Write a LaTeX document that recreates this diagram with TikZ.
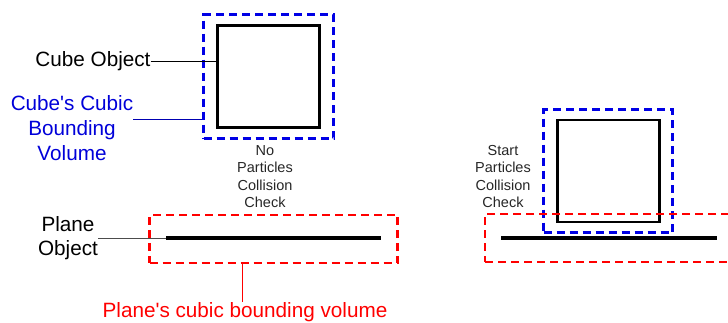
\documentclass[tikz,border=0pt]{standalone}
\usepackage{fontspec}
\setmainfont{Liberation Sans}
\usetikzlibrary{positioning}
\begin{document}
\begin{tikzpicture}[x=1pt, y=-1pt,
		bigtxt/.style={font=\fontsize{20.7}{25}\selectfont, align=center, inner sep=0pt},
		smalltxt/.style={font=\fontsize{14.5}{17.5}\selectfont, align=center, inner sep=0pt, text=black!85},
		cube/.style={draw, line width=2.5pt, minimum width=102pt, minimum height=102pt, inner sep=0pt},
		bvol/.style={draw=blue!90!black, line width=3pt, dash pattern=on 8pt off 5pt, inner sep=0pt},
		pvol/.style={draw=red, line width=2.5pt, dash pattern=on 8pt off 5pt, inner sep=0pt},
		plane/.style={line width=3.5pt},
		conn/.style={line width=1pt}]
		\useasboundingbox (0,0) rectangle (728,322);
		% before: no contact
		\node[cube] (cubeL) at (268.5,76.5) {};
		\node[bvol, minimum width=130pt, minimum height=124pt] (bvL) at (268.5,76.5) {};
		\coordinate (plA) at (166,238);
		\coordinate (plB) at (381,238);
		\draw[plane] (plA) -- (plB);
		\node[pvol, minimum width=248pt, minimum height=48pt] (pvL) at (273.5,239) {};
		% after: volumes overlap
		\node[cube] (cubeR) at (608.5,171) {};
		\node[bvol, minimum width=129pt, minimum height=123pt] (bvR) at (608,171) {};
		\coordinate (prA) at (501,238);
		\coordinate (prB) at (717,238);
		\draw[plane] (prA) -- (prB);
		\node[pvol, minimum width=254pt, minimum height=48pt] (pvR) at (612,238) {};
		% labels
		\node[bigtxt] (cubeTxt) at (93,61) {Cube Object};
		\draw[conn] (cubeTxt.east) -- (cubeTxt.east -| cubeL.west);
		\node[bigtxt, text=blue!85!black] (bvTxt) at (72,128) {Cube\textquotesingle s Cubic\\Bounding\\Volume};
		\draw[conn, blue!70!black] ([yshift=9pt]bvTxt.east) -- ([yshift=9pt]bvTxt.east -| bvL.west);
		\node[bigtxt, font=\fontsize{20.7}{24}\selectfont] (plTxt) at (68,238) {Plane\\Object};
		\draw[conn, black!70] (plTxt.east) -- (plA);
		\node[bigtxt, text=red] (pvTxt) at (245,312) {Plane\textquotesingle s cubic bounding volume};
		\draw[conn, red] ([xshift=-3pt]pvTxt.north) -- ([xshift=-3pt]pvTxt.north |- pvL.south);
		\node[smalltxt] (noTxt) at (265,176.5) {No\\Particles\\Collision\\Check};
		\node[smalltxt] (startTxt) at (503,176.5) {Start\\Particles\\Collision\\Check};
	\end{tikzpicture}
\end{document}
